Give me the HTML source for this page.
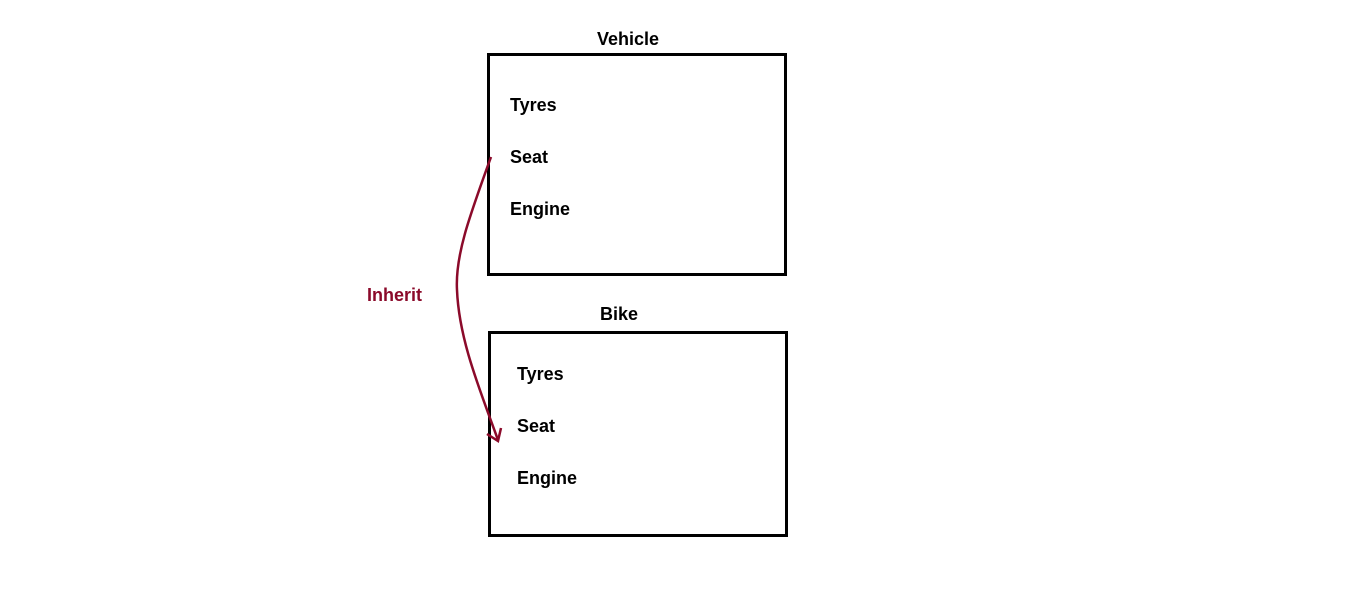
<!DOCTYPE html>
<html><head><style>
body{margin:0;width:1360px;height:594px;background:#fff;position:relative;overflow:hidden;font-family:"Liberation Sans",sans-serif;font-weight:bold;}
.t{position:absolute;font-size:18px;color:#000;line-height:20px;}
.box{position:absolute;border:3px solid #000;box-sizing:border-box;}
</style></head><body>
<div class="t" style="left:597px;top:29px">Vehicle</div>
<div class="box" style="left:487px;top:53px;width:300px;height:223px"></div>
<div class="t" style="left:510px;top:95px">Tyres</div>
<div class="t" style="left:510px;top:147px">Seat</div>
<div class="t" style="left:510px;top:199px">Engine</div>
<div class="t" style="left:600px;top:304px">Bike</div>
<div class="box" style="left:488px;top:331px;width:300px;height:206px"></div>
<div class="t" style="left:517px;top:364px">Tyres</div>
<div class="t" style="left:517px;top:416px">Seat</div>
<div class="t" style="left:517px;top:468px">Engine</div>
<div class="t" style="left:367px;top:285px;color:#8b0a2a">Inherit</div>
<svg width="1360" height="594" style="position:absolute;left:0;top:0" fill="none" stroke="#8b0a2a" stroke-width="2.5">
<path d="M491 157 C470 215 455 255 457 290 C459 340 480 390 498 440"/>
<path d="M487 434 L498 441 L501 428"/>
</svg>
</body></html>
